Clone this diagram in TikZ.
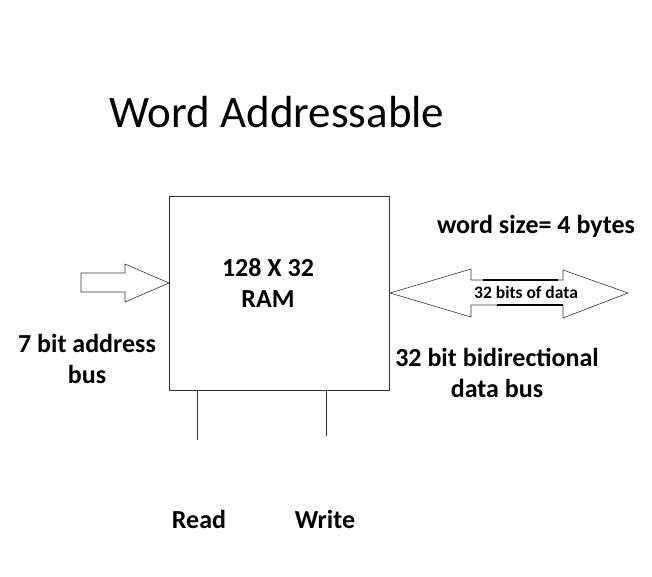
\documentclass[tikz,border=0pt]{standalone}
\usepackage{fontspec}
\setmainfont{Carlito}
\usetikzlibrary{positioning}

\begin{document}
\begin{tikzpicture}[x=1pt,y=-1pt,
        lbl/.style={font=\bfseries\fontsize{26}{31}\selectfont,align=center,anchor=base},
        wire/.style={draw=black!80,line width=1pt}]
        \useasboundingbox (0,0) rectangle (652,576);

        % Title
        \node[font=\fontsize{45}{50}\selectfont,anchor=base] (title) at (277,127) {Word Addressable};

        % The RAM block
        \node[wire,minimum width=220pt,minimum height=194pt,inner sep=0pt] (ram) at (279,293) {};
        \node[lbl] (ramtxt) at (268,307) {128 X 32\\RAM};

        % Address bus arrow
        \draw[wire,line width=0.6pt] (81,273) -- (125,273) -- (125,264) -- (169,283) -- (125,302) -- (125,292) -- (81,292) -- cycle;
        \node[lbl] (addr) at (87,383) {7 bit address\\bus};

        % Data bus arrow
        \draw[wire,line width=0.6pt] (390,293) -- (471,269) -- (471,280) -- (563,280) -- (563,270) -- (628,293)
              -- (563,318) -- (563,305) -- (471,305) -- (471,317) -- cycle;
        \draw[line width=1.6pt] (483,280) -- (558,280);
        \draw[line width=1.6pt] (497,305) -- (563,305);
        \node[font=\bfseries\fontsize{17.5}{20}\selectfont,anchor=base] (bits) at (526,298) {32 bits of data};
        \node[lbl] (wsize) at (536,233) {word size= 4 bytes};
        \node[lbl] (dbus) at (497,397) {32 bit bidirectional\\data bus};

        % Control lines
        \coordinate (rd) at (197,440);
        \coordinate (wr) at (326,436);
        \draw[wire] (ram.south -| rd) -- (rd);
        \draw[wire] (ram.south -| wr) -- (wr);
        \node[lbl] (read) at (199,528) {Read};
        \node[lbl] (write) at (325,528) {Write};
    \end{tikzpicture}
\end{document}
